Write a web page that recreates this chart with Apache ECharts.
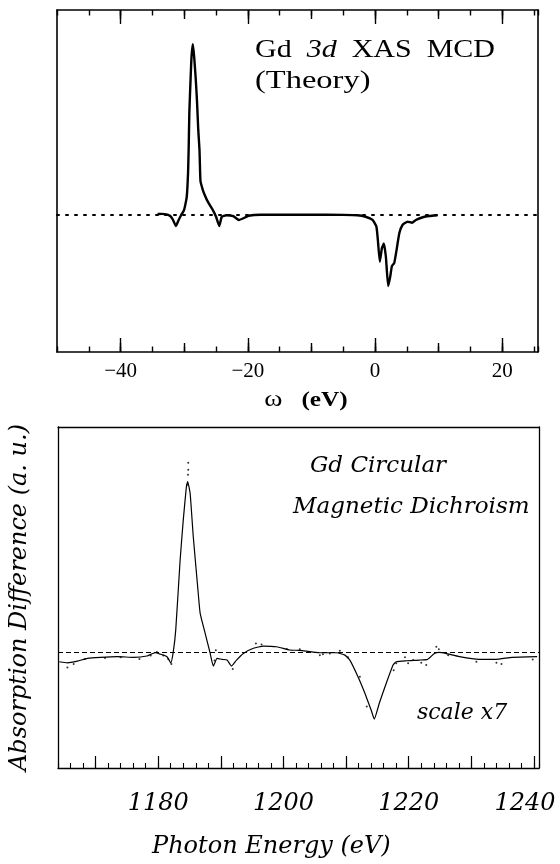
<!DOCTYPE html>
<html><head><meta charset="utf-8">
<script src="https://cdn.jsdelivr.net/npm/echarts@6/dist/echarts.min.js"></script>
<style>html,body{margin:0;padding:0;background:#fff}#c{width:560px;height:864px}</style>
</head><body><div id="c"></div>
<script>
// ---- Top panel: theory (omega in eV, MCD in arbitrary units) ----
const theoryOmega = [-34.2,-33.5,-32.8,-32.2,-31.8,-31.3,-30.9,-30.5,-30.1,-29.9,-29.6,-29.4,-29.3,-29.2,-29.0,-28.85,-28.65,-28.45,-28.2,-28.0,-27.8,-27.6,-27.45,-27.1,-26.8,-26.3,-25.5,-25.0,-24.5,-24.1,-23.4,-22.3,-21.4,-20.7,-19.9,-18,-15,-10,-5,-2.8,-1.5,-0.4,0.2,0.43,0.74,1.06,1.37,1.69,2.05,2.37,2.64,3.0,3.37,3.8,4.3,5.1,5.8,6.4,7.5,8.5,9.8];
const theoryMCD = [0.007,0.008,0.005,-0.005,-0.025,-0.063,-0.03,0.0,0.025,0.05,0.11,0.25,0.4,0.6,0.8,0.93,1.0,0.93,0.8,0.67,0.5,0.38,0.2,0.15,0.12,0.079,0.03,-0.009,-0.063,-0.009,0.0,-0.005,-0.028,-0.018,-0.003,0.003,0.003,0.003,0.002,0.0,-0.009,-0.028,-0.067,-0.145,-0.272,-0.194,-0.165,-0.243,-0.414,-0.36,-0.297,-0.28,-0.204,-0.106,-0.057,-0.038,-0.044,-0.028,-0.012,-0.005,0.0];
const topMidTicks = [-40,-30,-20,-10,0,10,20];
const topMajorTicks = [-40,-20,0,20];
const topTickLabels = [-40,-20,0,20];

// ---- Bottom panel: experiment (photon energy in eV, difference in a.u.) ----
const expEnergy = [1164.2,1165.5,1167.1,1168.7,1170.8,1173.5,1176.1,1178.2,1179.5,1180.3,1181.4,1182.0,1182.4,1182.8,1183.5,1184.0,1184.5,1184.7,1185.1,1185.6,1186.3,1186.7,1187.5,1188.3,1188.8,1189.4,1190.2,1191.0,1191.7,1192.5,1193.6,1195.2,1196.8,1198.9,1201.0,1202.6,1205.8,1208.5,1209.8,1210.6,1211.9,1213.0,1214.0,1214.5,1215.3,1216.4,1217.5,1218.0,1219.6,1221.7,1223.0,1224.1,1224.9,1225.9,1228.1,1231.2,1233.9,1236.5,1240.5];
const expSignal = [-0.057,-0.063,-0.053,-0.037,-0.031,-0.027,-0.031,-0.023,-0.004,-0.012,-0.027,-0.063,0.0,0.13,0.54,0.774,0.97,1.0,0.93,0.676,0.383,0.227,0.11,-0.008,-0.082,-0.037,-0.043,-0.047,-0.082,-0.047,-0.008,0.022,0.035,0.031,0.012,0.01,-0.004,-0.004,-0.018,-0.047,-0.145,-0.242,-0.34,-0.393,-0.30,-0.184,-0.076,-0.057,-0.051,-0.047,-0.043,-0.008,-0.002,-0.008,-0.027,-0.043,-0.043,-0.031,-0.027];
const dotEnergy = [1184.8,1184.8,1184.75,1184.6,1165.5,1166.5,1168.3,1171.5,1174,1177,1178.8,1179.8,1180.8,1181.6,1182.1,1189.2,1189.0,1191.9,1195.6,1196.5,1200.5,1202.6,1205.8,1206.3,1207.4,1209.0,1210.3,1212.2,1213.3,1217.6,1218.0,1219.4,1219.9,1220.7,1222.0,1222.8,1224.4,1224.8,1226.3,1230.8,1234.0,1234.8,1239.8];
const dotSignal = [1.11,1.07,1.04,0.98,-0.09,-0.07,-0.04,-0.035,-0.03,-0.04,-0.02,0.0,-0.02,-0.04,-0.07,0.01,-0.05,-0.1,0.05,0.045,0.018,0.016,-0.018,-0.013,-0.008,0.008,-0.03,-0.145,-0.32,-0.106,-0.066,-0.031,-0.066,-0.047,-0.063,-0.076,0.031,0.016,-0.018,-0.057,-0.063,-0.07,-0.043];
const bottomMajorTicks = [1170,1180,1190,1200,1210,1220,1230,1240];
const bottomTickLabels = [1180,1200,1220,1240];

const zip = (a, b) => a.map((v, i) => [v, b[i]]);

const serif = 'Liberation Serif';
const itSerif = 'DejaVu Serif';
const K = '#000';

const topMin = -50, topMax = 25.6;
const botMin = 1164, botMax = 1240.8;

function xAx(grid, pos, min, max, extra) {
  return Object.assign({
    type: 'value', gridIndex: grid, position: pos, min: min, max: max,
    axisLine: {show: false, onZero: false},
    axisTick: {show: false},
    axisLabel: {show: false},
    splitLine: {show: false}
  }, extra);
}
const tickStyle = w => ({color: K, width: w});

const xAxes = [
  // top panel, bottom side
  xAx(0, 'bottom', topMin, topMax, {interval: 5, axisLine: {show: true, onZero: false, lineStyle: {color: K, width: 1.6}},
    axisTick: {show: true, inside: true, length: 5.5, lineStyle: tickStyle(1.4)}}),
  xAx(0, 'bottom', topMin, topMax, {axisTick: {show: true, inside: true, length: 9, customValues: topMidTicks, lineStyle: tickStyle(1.4)}}),
  xAx(0, 'bottom', topMin, topMax, {axisTick: {show: true, inside: true, length: 14, customValues: topMajorTicks, lineStyle: tickStyle(1.4)},
    axisLabel: {show: true, customValues: topTickLabels, margin: 9, color: K, fontFamily: serif, fontSize: 21,
      formatter: v => String(v).replace('-', '\u2212')}}),
  // top panel, top side
  xAx(0, 'top', topMin, topMax, {interval: 5, axisLine: {show: true, onZero: false, lineStyle: {color: K, width: 1.6}},
    axisTick: {show: true, inside: true, length: 5.5, lineStyle: tickStyle(1.4)}}),
  xAx(0, 'top', topMin, topMax, {axisTick: {show: true, inside: true, length: 9, customValues: topMidTicks, lineStyle: tickStyle(1.4)}}),
  xAx(0, 'top', topMin, topMax, {axisTick: {show: true, inside: true, length: 14, customValues: topMajorTicks, lineStyle: tickStyle(1.4)}}),
  // bottom panel
  xAx(1, 'bottom', botMin, botMax, {interval: 2, axisLine: {show: true, onZero: false, lineStyle: {color: K, width: 1.3}},
    axisTick: {show: true, inside: true, length: 5, lineStyle: tickStyle(1.1)}}),
  xAx(1, 'bottom', botMin, botMax, {axisTick: {show: true, inside: true, length: 12, customValues: bottomMajorTicks, lineStyle: tickStyle(1.2)},
    axisLabel: {show: true, customValues: bottomTickLabels, margin: 24,
      formatter: v => v === 1240 ? '{r|' + v + '}' : '{n|' + v + '}',
      rich: {
        n: {fontFamily: itSerif, fontStyle: 'italic', fontSize: 24, color: K},
        r: {fontFamily: itSerif, fontStyle: 'italic', fontSize: 24, color: K, padding: [0, 18, 0, 0]}
      }}}),
  xAx(1, 'top', botMin, botMax, {axisLine: {show: true, onZero: false, lineStyle: {color: K, width: 1.3}}})
];

function yAx(grid, pos, min, max, w, extra) {
  return Object.assign({
    type: 'value', gridIndex: grid, position: pos, min: min, max: max,
    axisLine: {show: true, onZero: false, lineStyle: {color: K, width: w}},
    axisTick: {show: false}, axisLabel: {show: false}, splitLine: {show: false}
  }, extra);
}

const yAxes = [
  yAx(0, 'left', -0.8, 1.2, 1.6),
  yAx(0, 'right', -0.8, 1.2, 1.6),
  yAx(1, 'left', -0.68, 1.32, 1.3, {
    name: 'Absorption Difference (a. u.)', nameLocation: 'middle', nameRotate: 90, nameGap: 26,
    nameTextStyle: {fontFamily: itSerif, fontStyle: 'italic', fontSize: 24, color: K}
  }),
  yAx(1, 'right', -0.68, 1.32, 1.3)
];

const chart = echarts.init(document.getElementById('c'), null, {renderer: 'canvas'});
chart.setOption({
  animation: false,
  backgroundColor: '#fff',
  grid: [
    {left: 57, right: 22, top: 10, height: 342, outerBoundsMode: 'none'},
    {left: 58, right: 21, top: 427, height: 341, outerBoundsMode: 'none'}
  ],
  xAxis: xAxes,
  yAxis: yAxes,
  series: [
    {
      name: 'Theory', type: 'line', xAxisIndex: 0, yAxisIndex: 0,
      data: zip(theoryOmega, theoryMCD), showSymbol: false, symbol: 'none', smooth: 0.15,
      lineStyle: {color: K, width: 2.4},
      markLine: {silent: true, symbol: 'none', label: {show: false},
        lineStyle: {color: K, type: [2, 7], width: 2, cap: 'round'}, data: [{yAxis: 0}]}
    },
    {
      name: 'Experiment', type: 'line', xAxisIndex: 6, yAxisIndex: 2,
      data: zip(expEnergy, expSignal), showSymbol: false, symbol: 'none', smooth: 0.15,
      lineStyle: {color: K, width: 1.2},
      markLine: {silent: true, symbol: 'none', label: {show: false},
        lineStyle: {color: K, type: [5, 3], width: 1.2}, data: [{yAxis: 0}]}
    },
    {
      name: 'Data points', type: 'scatter', xAxisIndex: 6, yAxisIndex: 2,
      data: zip(dotEnergy, dotSignal), symbol: 'circle', symbolSize: 2,
      itemStyle: {color: K}
    }
  ],
  graphic: [
    {type: 'text', x: 255, y: 50, scaleX: 1.2, style: {
      text: '{n|Gd}  {i|3d}  {n|XAS}  {n|MCD}', font: '25px "Liberation Serif"', fill: K,
      align: 'left', verticalAlign: 'middle',
      rich: {n: {fontFamily: serif, fontSize: 25, fill: K}, i: {fontFamily: serif, fontSize: 25, fontStyle: 'italic', fill: K}}}},
    {type: 'text', x: 255, y: 81, scaleX: 1.3, style: {
      text: '(Theory)', font: '25px "Liberation Serif"', fill: K, align: 'left', verticalAlign: 'middle'}},
    {type: 'text', x: 306, y: 400, scaleX: 1.15, style: {
      text: '{w|ω}   {b|(eV)}', font: '22px "Liberation Serif"', fill: K, align: 'center', verticalAlign: 'middle',
      rich: {w: {fontFamily: serif, fontSize: 24, fill: K}, b: {fontFamily: serif, fontSize: 22, fontWeight: 'bold', fill: K}}}},
    {type: 'text', x: 310, y: 466, style: {
      text: 'Gd Circular', font: 'italic 23px "DejaVu Serif"', fill: K, align: 'left', verticalAlign: 'middle'}},
    {type: 'text', x: 293, y: 507, style: {
      text: 'Magnetic Dichroism', font: 'italic 23px "DejaVu Serif"', fill: K, align: 'left', verticalAlign: 'middle'}},
    {type: 'text', x: 417, y: 713, style: {
      text: 'scale x7', font: 'italic 22px "DejaVu Serif"', fill: K, align: 'left', verticalAlign: 'middle'}},
    {type: 'text', x: 152, y: 847, style: {
      text: 'Photon Energy (eV)', font: 'italic 24px "DejaVu Serif"', fill: K, align: 'left', verticalAlign: 'middle'}}
  ]
});
</script>
</body></html>
